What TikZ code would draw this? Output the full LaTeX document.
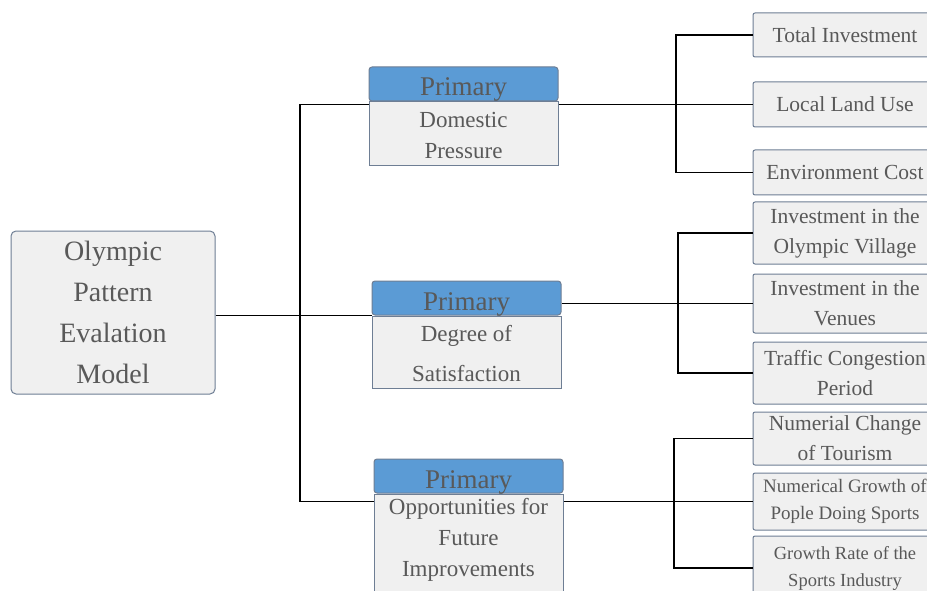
\documentclass[tikz,border=0pt]{standalone}
\usepackage{fontspec}
\setmainfont{Liberation Serif}
\usetikzlibrary{calc, positioning}
\definecolor{boxfill}{HTML}{F0F0F0}
\definecolor{boxline}{HTML}{6E7E94}
\definecolor{headblue}{HTML}{5B9BD5}
\definecolor{txtgray}{HTML}{595959}
\tikzset{every node/.append style = {text = txtgray, align = center}}
\tikzset{rootbox/.style = {draw = boxline, line width = 1pt, fill = boxfill, rounded corners = 5pt, minimum width = 204pt, minimum height = 163pt, font = \fontsize{28}{41}\selectfont}}
\tikzset{headbox/.style = {draw = boxline, line width = 1pt, fill = headblue, rounded corners = 3pt, minimum width = 189pt, minimum height = 34pt, inner sep = 0pt, text height = 24pt, text depth = 0pt, font = \fontsize{27}{27}\selectfont}}
\tikzset{bodybox/.style = {draw = boxline, line width = 1pt, fill = boxfill, minimum width = 189pt, inner sep = 0pt, font = \fontsize{23}{32}\selectfont}}
\tikzset{leafbox/.style = {draw = boxline, line width = 1pt, fill = boxfill, rounded corners = 2pt, minimum width = 184pt, inner sep = 0pt, font = \fontsize{21.5}{30}\selectfont}}
\tikzset{link/.style = {draw = black, line width = 1.4pt}}

\begin{document}
\begin{tikzpicture}[x = 1pt, y = -1pt]
\useasboundingbox (0,0) rectangle (927,591);
\clip (0,0) rectangle (927,591);
\fill[white] (0,0) rectangle (927,591);
\node[rootbox] (root) at (113,312.5) {Olympic\\Pattern\\Evalation\\Model};
\node[headbox] (p1h) at (463.5,84) {Primary};
\node[bodybox, below = 0pt of p1h, text height = 57pt, text depth = 7pt] (p1b) {Domestic\\Pressure};
\node[headbox] (p2h) at (466.5,298) {Primary};
\node[bodybox, below = 0pt of p2h, text height = 65pt, text depth = 7pt, font = \fontsize{23}{40}\selectfont] (p2b) {Degree of\\Satisfaction};
\node[headbox] (p3h) at (468.5,476) {Primary};
\node[bodybox, below = 0pt of p3h, text height = 82pt, text depth = 30pt, font = \fontsize{23}{31}\selectfont] (p3b) {Opportunities for\\Future\\Improvements};
\node[leafbox, minimum height = 44pt] (l1) at (845,35) {Total Investment};
\node[leafbox, minimum height = 45pt] (l2) at (845,104.5) {Local Land Use};
\node[leafbox, minimum height = 45pt] (l3) at (845,172.5) {Environment Cost};
\node[leafbox, minimum height = 62pt] (l4) at (845,233) {Investment in the\\Olympic Village};
\node[leafbox, minimum height = 59pt] (l5) at (845,303.5) {Investment in the\\Venues};
\node[leafbox, minimum height = 62pt] (l6) at (845,373) {Traffic Congestion\\Period};
\node[leafbox, minimum height = 53pt] (l7) at (845,438.5) {Numerial Change\\of Tourism};
\node[leafbox, minimum height = 57pt, font = \fontsize{19}{27}\selectfont] (l8) at (845,501.5) {Numerical Growth of\\Pople Doing Sports};
\node[leafbox, minimum height = 64pt, font = \fontsize{18.5}{27}\selectfont] (l9) at (845,568) {Growth Rate of the\\Sports Industry};
\coordinate (tk) at (300,0);
\coordinate (bus1) at (676,0);
\coordinate (bus2) at (678,0);
\coordinate (bus3) at (674,0);
\draw[link] (root.east |- p2h.south) -- (p2h.south west);
\draw[link] (p1b.west |- l2.west) -| (tk |- l8.west) -- (p3b.west |- l8.west);
\draw[link] (p1b.east |- l2.west) -- (l2.west);
\draw[link] (p2h.east |- l5.west) -- (l5.west);
\draw[link] (p3b.east |- l8.west) -- (l8.west);
\draw[link] (l1.west) -- (bus1 |- l1.west) -- (bus1 |- l3.west) -- (l3.west);
\draw[link] (l4.west) -- (bus2 |- l4.west) -- (bus2 |- l6.west) -- (l6.west);
\draw[link] (l7.west) -- (bus3 |- l7.west) -- (bus3 |- l9.west) -- (l9.west);
\end{tikzpicture}
\end{document}
